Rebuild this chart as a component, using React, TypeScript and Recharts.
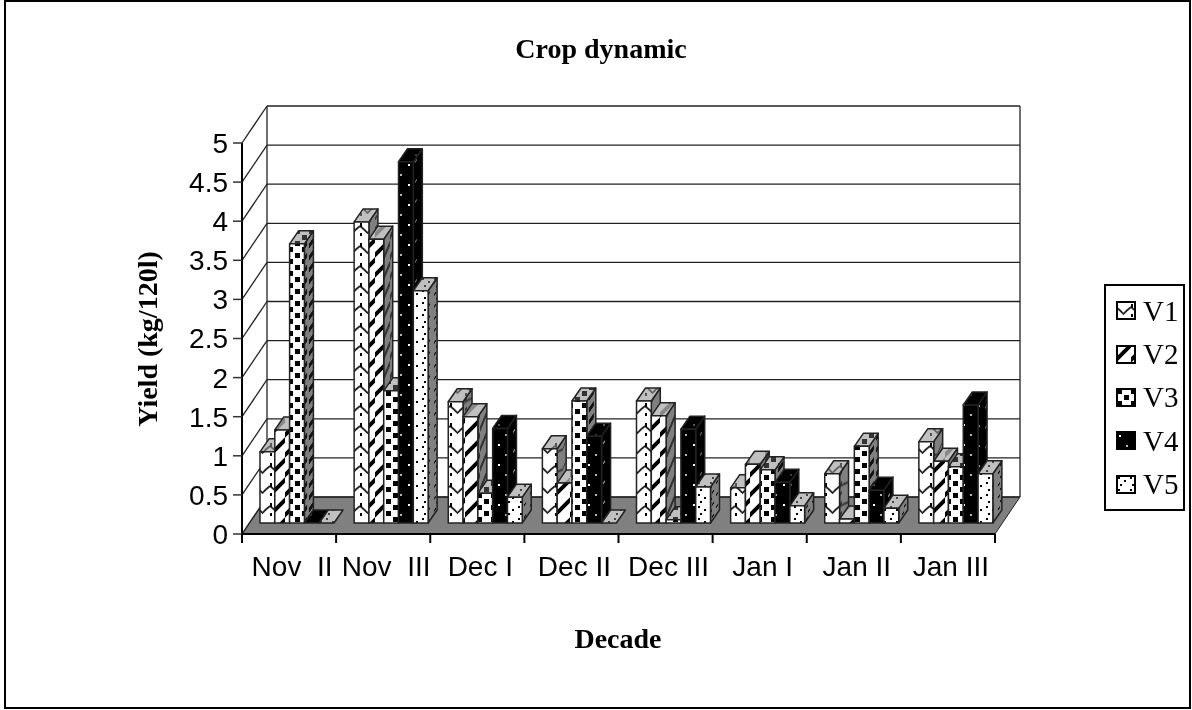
import { BarChart, Bar, XAxis, YAxis, CartesianGrid, Legend } from "recharts";

const decades = ["Nov\u00a0 II", "Nov\u00a0 III", "Dec I", "Dec II", "Dec III", "Jan I", "Jan II", "Jan III"];
const v1 = [0.91, 3.85, 1.55, 0.95, 1.56, 0.45, 0.63, 1.04];
const v2 = [1.19, 3.63, 1.36, 0.51, 1.37, 0.75, 0.05, 0.79];
const v3 = [3.57, 1.69, 0.38, 1.56, 0.04, 0.68, 0.98, 0.72];
const v4 = [0, 4.62, 1.21, 1.11, 1.2, 0.52, 0.42, 1.51];
const v5 = [0, 2.97, 0.33, 0, 0.46, 0.22, 0.19, 0.63];
const yTicks = [0, 0.5, 1, 1.5, 2, 2.5, 3, 3.5, 4, 4.5, 5];

const data = decades.map((name, i) => ({ name, V1: v1[i], V2: v2[i], V3: v3[i], V4: v4[i], V5: v5[i] }));

const WIDTH = 1192;
const HEIGHT = 710;
const PLOT_LEFT = 242;
const PLOT_RIGHT = 995;
const PLOT_TOP = 143;
const PLOT_BOTTOM = 534;
const Y_AXIS_W = 60;
const X_AXIS_H = 60;
const LEGEND_RESERVED = 81; // recharts takes this off the plot for the legend
const CAT_STEP = (PLOT_RIGHT - PLOT_LEFT) / decades.length;
// oblique offsets: chart depth, and where a bar sits in it
const DEPTH_X = 25;
const DEPTH_Y = 37;
const BAR_DX = 8;
const BAR_DY = 11;
const BAR_DEPTH_X = 9;
const BAR_DEPTH_Y = 13;

const SERIF = "'Liberation Serif', 'Times New Roman', serif";
const SANS = "'Liberation Sans', Arial, sans-serif";

const marks: Record<string, (fg: string) => React.ReactNode> = {
  V1: (fg) => (
    <>
      <path d="M0 6 Q4 9 7.5 13 Q11 9 15 6" fill="none" stroke={fg} strokeWidth={1.8} opacity={0.85} />
      <rect x={0} y={3} width={2} height={4} fill={fg} />
      <rect x={0} y={13} width={2} height={3} fill={fg} />
    </>
  ),
  V2: (fg) => (
    <path d="M-2 17 L17 -2 M-2 37 L17 18" fill="none" stroke={fg} strokeWidth={4} />
  ),
  V3: (fg) => (
    <>
      <rect x={1} y={1} width={5} height={5} fill={fg} />
      <rect x={8} y={7} width={5} height={5} fill={fg} />
    </>
  ),
  V4: (fg) => (
    <>
      <rect x={3} y={4} width={2} height={2} fill={fg} />
      <rect x={10} y={14} width={2} height={2} fill={fg} opacity={0.7} />
    </>
  ),
  V5: (fg) => (
    <>
      <rect x={2} y={2} width={2} height={2} fill={fg} />
      <rect x={8} y={5} width={2} height={2} fill={fg} />
      <rect x={4} y={9} width={2} height={2} fill={fg} />
    </>
  ),
};

const tiles: Record<string, [number, number]> = {
  V1: [15, 20],
  V2: [15, 20],
  V3: [14, 12],
  V4: [15, 20],
  V5: [12, 12],
};

const faceColors: Record<string, Record<string, [string, string]>> = {
  V1: { front: ["#fff", "#000"], top: ["#c0c0c0", "#555"], side: ["#808080", "#333"] },
  V2: { front: ["#fff", "#000"], top: ["#c0c0c0", "#888"], side: ["#808080", "#333"] },
  V3: { front: ["#fff", "#000"], top: ["#c0c0c0", "#333"], side: ["#808080", "#111"] },
  V4: { front: ["#000", "#fff"], top: ["#000", "#555"], side: ["#000", "#999"] },
  V5: { front: ["#fff", "#000"], top: ["#c0c0c0", "#444"], side: ["#808080", "#111"] },
};

function Patterns() {
  return (
    <defs>
      {Object.keys(marks).map((key) =>
        Object.keys(faceColors[key]).map((face) => {
          const [bg, fg] = faceColors[key][face];
          const [w, h] = tiles[key];
          return (
            <pattern
              key={key + face}
              id={`${key}-${face}`}
              width={w}
              height={h}
              patternUnits="userSpaceOnUse"
              patternTransform={face === "side" ? "skewY(-55)" : undefined}
            >
              <rect width={w} height={h} fill={bg} />
              {marks[key](fg)}
            </pattern>
          );
        })
      )}
    </defs>
  );
}

const Bar3D = (seriesKey: string) => (props: any) => {
  const x = props.x + BAR_DX;
  const w = props.width;
  const h = Math.max(props.height, 0);
  const y = props.y - BAR_DY;
  const dx = BAR_DEPTH_X;
  const dy = BAR_DEPTH_Y;
  const line = { stroke: "#222", strokeWidth: 1.5, strokeLinejoin: "round" as const };
  return (
    <g>
      {h > 0 && (
        <polygon
          points={`${x + w},${y} ${x + w + dx},${y - dy} ${x + w + dx},${y + h - dy} ${x + w},${y + h}`}
          fill={`url(#${seriesKey}-side)`}
          {...line}
        />
      )}
      <polygon
        points={`${x},${y} ${x + dx},${y - dy} ${x + w + dx},${y - dy} ${x + w},${y}`}
        fill={`url(#${seriesKey}-top)`}
        {...line}
      />
      {h > 0 && <rect x={x} y={y} width={w} height={h} fill={`url(#${seriesKey}-front)`} {...line} />}
    </g>
  );
};

// each grid line is folded over the side wall and the back wall
const WallLine = (props: any) => {
  const { x1, x2, y1 } = props;
  const isFloor = Math.abs(y1 - PLOT_BOTTOM) < 1;
  const isTop = Math.abs(y1 - PLOT_TOP) < 1;
  const backY = y1 - DEPTH_Y;
  const line = { stroke: "#222", strokeWidth: 1.3 };
  return (
    <g key={props.key}>
      {isFloor && (
        <polygon
          points={`${x1},${y1} ${x2},${y1} ${x2 + DEPTH_X},${backY} ${x1 + DEPTH_X},${backY}`}
          fill="#808080"
          stroke="#222"
        />
      )}
      <line x1={x1} y1={y1} x2={x1 + DEPTH_X} y2={backY} {...line} />
      <line x1={x1 + DEPTH_X} y1={backY} x2={x2 + DEPTH_X} y2={backY} {...line} />
      {isTop && (
        <>
          <line x1={x1 + DEPTH_X} y1={backY} x2={x1 + DEPTH_X} y2={PLOT_BOTTOM - DEPTH_Y} {...line} />
          <line x1={x2 + DEPTH_X} y1={backY} x2={x2 + DEPTH_X} y2={PLOT_BOTTOM - DEPTH_Y} {...line} />
        </>
      )}
    </g>
  );
};

const CategoryTick = (props: any) => {
  const { x, y, payload, index } = props;
  const left = x - CAT_STEP / 2;
  return (
    <g>
      <line x1={left} y1={PLOT_BOTTOM} x2={left} y2={PLOT_BOTTOM + 9} stroke="#000" strokeWidth={2} />
      {index === decades.length - 1 && (
        <line x1={x + CAT_STEP / 2} y1={PLOT_BOTTOM} x2={x + CAT_STEP / 2} y2={PLOT_BOTTOM + 9} stroke="#000" strokeWidth={2} />
      )}
      <text x={x + 3} y={y + 34} textAnchor="middle" fontFamily={SANS} fontSize={28} fill="#000">
        {payload.value}
      </text>
    </g>
  );
};

const LegendBox = ({ payload }: any) => (
  <div
    style={{
      boxSizing: "border-box",
      width: 81,
      height: 227,
      border: "2px solid #000",
      background: "#fff",
      display: "flex",
      flexDirection: "column",
      justifyContent: "space-around",
      padding: "3px 0 3px 10px",
    }}
  >
    {(payload ?? []).map((p: any) => (
      <div key={p.value} style={{ display: "flex", alignItems: "center", fontFamily: SERIF, fontSize: 29, lineHeight: "30px", color: "#000" }}>
        <svg width={20} height={19} style={{ marginRight: 7 }}>
          <rect x={1} y={1} width={18} height={17} fill={`url(#${p.value}-front)`} stroke="#000" strokeWidth={2} />
        </svg>
        {p.value}
      </div>
    ))}
  </div>
);

export default function App() {
  return (
    <div style={{ position: "fixed", left: 0, top: 0 }}>
      <BarChart
        width={WIDTH}
        height={HEIGHT}
        data={data}
        barSize={14.8}
        barGap={0}
        margin={{
          top: PLOT_TOP,
          right: WIDTH - PLOT_RIGHT - LEGEND_RESERVED,
          bottom: HEIGHT - PLOT_BOTTOM - X_AXIS_H,
          left: PLOT_LEFT - Y_AXIS_W,
        }}
      >
        <Patterns />
        <rect x={5} y={1} width={1185} height={707} fill="none" stroke="#000" strokeWidth={2} />
        <text x={601} y={58} textAnchor="middle" fontFamily={SERIF} fontWeight="bold" fontSize={28} fill="#000">
          Crop dynamic
        </text>
        <text x={618} y={648} textAnchor="middle" fontFamily={SERIF} fontWeight="bold" fontSize={28} fill="#000">
          Decade
        </text>
        <text
          transform="translate(157,339) rotate(-90)"
          textAnchor="middle"
          fontFamily={SERIF}
          fontWeight="bold"
          fontSize={28}
          fill="#000"
        >
          Yield (kg/120l)
        </text>
        <CartesianGrid vertical={false} horizontal={WallLine} />
        <XAxis
          dataKey="name"
          height={X_AXIS_H}
          interval={0}
          tickLine={false}
          axisLine={{ stroke: "#000", strokeWidth: 2 }}
          tick={CategoryTick}
        />
        <YAxis
          width={Y_AXIS_W}
          domain={[0, 5]}
          ticks={yTicks}
          interval={0}
          tickSize={9}
          tickMargin={5}
          axisLine={{ stroke: "#000", strokeWidth: 2 }}
          tickLine={{ stroke: "#333", strokeWidth: 1.5 }}
          tick={{ fontSize: 28, fontFamily: SANS, fill: "#000" }}
        />
        <Legend
          layout="vertical"
          align="right"
          verticalAlign="top"
          content={<LegendBox />}
          wrapperStyle={{ position: "absolute", left: 1104, top: 284, right: "auto", bottom: "auto", width: 81 }}
        />
        <Bar dataKey="V1" name="V1" fill="#ffffff" isAnimationActive={false} shape={Bar3D("V1")} />
        <Bar dataKey="V2" name="V2" fill="#cccccc" isAnimationActive={false} shape={Bar3D("V2")} />
        <Bar dataKey="V3" name="V3" fill="#999999" isAnimationActive={false} shape={Bar3D("V3")} />
        <Bar dataKey="V4" name="V4" fill="#000000" isAnimationActive={false} shape={Bar3D("V4")} />
        <Bar dataKey="V5" name="V5" fill="#eeeeee" isAnimationActive={false} shape={Bar3D("V5")} />
      </BarChart>
    </div>
  );
}
